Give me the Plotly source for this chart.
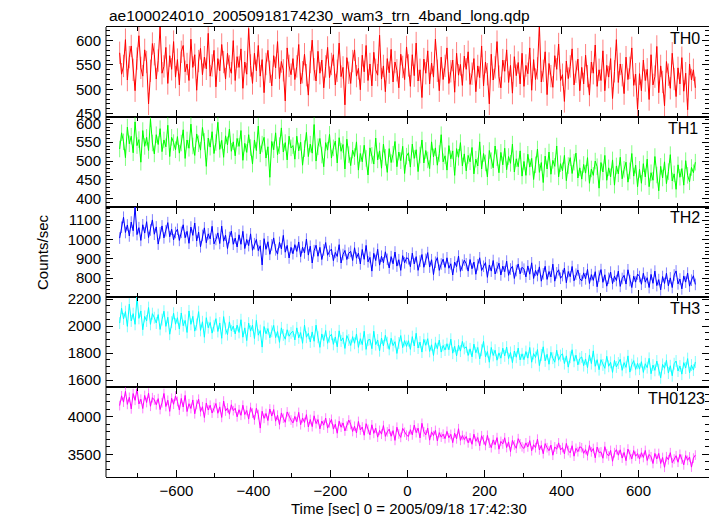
import numpy as np
import plotly.graph_objects as go
from plotly.subplots import make_subplots

TITLE = "ae100024010_20050918174230_wam3_trn_4band_long.qdp"
X_TITLE = "Time [sec] 0 = 2005/09/18 17:42:30"
Y_TITLE = "Counts/sec"

# time bins of the light curve (first bin centre and bin width, seconds)
TIME_START = -747.5
BIN_SIZE = 5.0

band_names = ["TH0", "TH1", "TH2", "TH3", "TH0123"]

th0 = [575, 531, 548, 602, 519, 566, 589, 540, 497, 563, 610, 544, 527, 581, 556, 470, 538, 594, 572, 521, 559, 628, 533, 547, 586, 512, 569, 541, 598, 525,
       561, 509, 577, 590, 536, 552, 518, 603, 545, 571, 498, 558, 584, 530, 566, 542, 615, 527, 549, 580, 505, 563, 538, 592, 556, 521, 574, 547, 533, 600,
       518, 567, 545, 583, 502, 556, 531, 625, 549, 512, 574, 538, 590, 527, 561, 493, 552, 580, 536, 507, 569, 544, 598, 522, 557, 539, 476, 585, 548, 530,
       563, 520, 547, 592, 511, 535, 572, 529, 488, 556, 601, 541, 517, 578, 533, 560, 503, 547, 586, 524, 552, 571, 509, 538, 595, 526, 545, 468, 565, 534,
       512, 558, 581, 527, 543, 499, 570, 536, 590, 518, 552, 507, 576, 540, 529, 611, 521, 548, 495, 563, 534, 582, 515, 556, 539, 503, 572, 546, 520, 587,
       549, 506, 571, 528, 595, 517, 540, 483, 562, 533, 579, 511, 554, 525, 603, 538, 497, 566, 520, 548, 585, 512, 537, 560, 494, 574, 529, 551, 508, 568,
       541, 577, 510, 532, 563, 495, 548, 524, 589, 507, 556, 531, 470, 572, 519, 545, 598, 526, 503, 560, 537, 581, 514, 549, 492, 567, 528, 555, 511, 574,
       506, 549, 532, 585, 498, 561, 520, 543, 632, 515, 538, 577, 489, 553, 527, 504, 569, 541, 593, 518, 530, 475, 558, 522, 547, 583, 509, 536, 562, 497,
       545, 511, 570, 527, 488, 556, 533, 591, 506, 540, 518, 579, 497, 549, 525, 563, 481, 537, 602, 514, 552, 529, 491, 566, 520, 544, 585, 508, 531, 459,
       532, 497, 560, 518, 541, 479, 571, 509, 526, 588, 493, 548, 515, 466, 557, 530, 502, 574, 521, 485, 544, 511, 565, 496, 533, 458, 552, 519, 540, 503]

th1 = [532, 575, 551, 509, 590, 546, 566, 522, 604, 541, 557, 497, 581, 539, 563, 528, 612, 548, 519, 570, 544, 586, 525, 556, 538, 595, 512, 563, 549, 530,
       565, 521, 548, 583, 507, 556, 534, 598, 540, 515, 572, 546, 529, 589, 552, 486, 561, 537, 578, 520, 549, 603, 531, 555, 510, 567, 543, 585, 526, 551,
       514, 560, 539, 581, 502, 547, 523, 570, 536, 492, 556, 528, 593, 519, 545, 563, 508, 538, 457, 552, 530, 575, 517, 541, 588, 524, 549, 503, 566, 535,
       541, 505, 566, 527, 550, 489, 533, 576, 512, 545, 521, 597, 500, 538, 560, 516, 485, 549, 529, 571, 508, 535, 553, 495, 562, 526, 544, 479, 558, 517,
       488, 529, 512, 551, 476, 520, 498, 542, 507, 463, 535, 515, 492, 561, 503, 527, 481, 545, 510, 470, 533, 496, 518, 552, 485, 524, 501, 539, 467, 513,
       522, 484, 545, 507, 530, 472, 516, 556, 495, 528, 503, 480, 551, 511, 535, 489, 520, 570, 498, 514, 476, 541, 506, 527, 462, 533, 510, 549, 487, 519,
       474, 515, 498, 536, 466, 505, 487, 551, 479, 520, 495, 458, 528, 501, 482, 540, 509, 469, 523, 490, 534, 477, 512, 494, 545, 471, 506, 485, 527, 460,
       499, 462, 518, 484, 507, 451, 490, 532, 470, 496, 443, 513, 479, 524, 465, 502, 486, 540, 458, 493, 474, 515, 448, 488, 509, 467, 497, 521, 455, 482,
       452, 491, 468, 509, 441, 479, 462, 500, 485, 428, 496, 471, 515, 449, 482, 458, 503, 436, 487, 466, 510, 453, 478, 497, 444, 474, 520, 460, 489, 432,
       478, 441, 493, 458, 505, 432, 469, 449, 512, 463, 421, 486, 455, 498, 440, 472, 517, 447, 466, 425, 490, 457, 480, 436, 501, 462, 445, 483, 469, 497]

th2 = [1007, 1063, 1115, 1036, 1075, 1018, 1090, 1045, 1168, 1025, 1061, 995, 1076, 1033, 1092, 1010, 1049, 1101, 1027, 1065, 976, 1034, 1070, 1008, 1045, 1087, 1014, 1053, 998, 1036,
       1053, 995, 1037, 1076, 1009, 1042, 980, 1064, 1021, 1085, 992, 1038, 962, 1021, 1060, 983, 1029, 1003, 1068, 977, 1000, 1034, 979, 1069, 991, 1022, 953, 1010, 1043, 975,
       1007, 961, 1024, 975, 1042, 953, 1000, 968, 1029, 944, 978, 1000, 942, 967, 868, 1004, 949, 988, 923, 972, 1008, 946, 924, 985, 951, 1021, 934, 969, 904, 959,
       926, 973, 938, 987, 911, 960, 930, 1002, 919, 965, 878, 942, 970, 913, 959, 896, 946, 984, 918, 939, 950, 890, 933, 912, 973, 878, 922, 943, 896, 929,
       938, 891, 957, 903, 929, 873, 948, 897, 969, 884, 907, 836, 928, 891, 949, 867, 913, 879, 936, 897, 852, 911, 874, 935, 862, 895, 840, 916, 879, 905,
       900, 859, 929, 873, 911, 840, 888, 922, 856, 897, 932, 857, 895, 818, 882, 906, 840, 873, 898, 855, 905, 851, 874, 816, 883, 859, 914, 835, 867, 893,
       874, 836, 896, 848, 883, 820, 869, 905, 839, 861, 880, 804, 868, 836, 891, 821, 854, 877, 816, 862, 833, 888, 814, 847, 861, 798, 839, 873, 822, 856,
       846, 806, 863, 820, 879, 798, 840, 813, 858, 784, 822, 861, 793, 834, 806, 872, 784, 827, 843, 799, 813, 852, 776, 834, 807, 860, 786, 820, 842, 797,
       785, 827, 796, 845, 772, 818, 788, 833, 755, 810, 844, 778, 817, 758, 799, 831, 771, 810, 787, 836, 757, 798, 814, 769, 843, 787, 751, 810, 779, 821,
       808, 768, 825, 779, 802, 751, 819, 773, 836, 761, 792, 739, 808, 772, 825, 760, 801, 751, 816, 837, 770, 795, 744, 811, 779, 826, 758, 789, 812, 767]

th3 = [2022, 2132, 2053, 2107, 1998, 2162, 2038, 2092, 2013, 2215, 2057, 2112, 1973, 2072, 2038, 2137, 2013, 2092, 2062, 2023, 2085, 1975, 2048, 2110, 1998, 2065, 1940, 2029, 2095, 2014,
       2062, 1978, 2097, 2003, 2042, 1953, 2112, 2013, 2072, 1963, 2012, 2107, 1968, 2032, 1918, 2062, 1988, 2027, 1948, 2002, 2055, 1960, 2023, 1910, 2070, 1982, 1937, 2031, 1965, 2000,
       1942, 2007, 1953, 2047, 1918, 1987, 1893, 2022, 1963, 2007, 1908, 2042, 1933, 1967, 1845, 1997, 1943, 1982, 1913, 1962, 2005, 1915, 1960, 1880, 1987, 1935, 1903, 1973, 1925, 1950,
       1962, 1898, 1987, 1913, 1952, 1873, 2007, 1918, 1947, 1883, 1957, 1888, 2007, 1918, 1843, 1942, 1893, 1967, 1873, 1922, 1940, 1865, 1920, 1847, 1965, 1890, 1913, 1835, 1930, 1897,
       1857, 1922, 1873, 1942, 1843, 1907, 1863, 1962, 1828, 1897, 1902, 1833, 1962, 1863, 1897, 1818, 1912, 1853, 1932, 1877, 1828, 1910, 1856, 1885, 1798, 1875, 1930, 1841, 1893, 1850,
       1892, 1828, 1922, 1853, 1947, 1838, 1882, 1808, 1902, 1858, 1907, 1813, 1862, 1783, 1877, 1833, 1897, 1808, 1857, 1823, 1870, 1825, 1903, 1800, 1851, 1780, 1859, 1815, 1887, 1835,
       1847, 1783, 1832, 1773, 1867, 1803, 1842, 1758, 1822, 1887, 1773, 1812, 1733, 1842, 1783, 1822, 1748, 1802, 1763, 1837, 1780, 1845, 1760, 1805, 1730, 1816, 1770, 1838, 1750, 1795,
       1752, 1812, 1763, 1842, 1733, 1797, 1768, 1827, 1708, 1787, 1847, 1743, 1792, 1718, 1807, 1763, 1733, 1822, 1748, 1782, 1795, 1723, 1780, 1697, 1770, 1825, 1740, 1785, 1713, 1760,
       1772, 1708, 1757, 1693, 1787, 1723, 1817, 1703, 1752, 1678, 1752, 1713, 1688, 1777, 1703, 1732, 1658, 1747, 1698, 1727, 1755, 1673, 1730, 1695, 1780, 1660, 1715, 1745, 1680, 1725,
       1682, 1737, 1658, 1722, 1693, 1762, 1648, 1712, 1673, 1742, 1678, 1618, 1717, 1688, 1747, 1653, 1707, 1633, 1722, 1742, 1668, 1705, 1645, 1730, 1690, 1760, 1655, 1712, 1675, 1735]

th0123 = [4147, 4277, 4193, 4337, 4163, 4257, 4103, 4307, 4217, 4367, 4168, 4232, 4108, 4282, 4188, 4312, 4138, 4252, 4222, 4158, 4240, 4095, 4185, 4308, 4135, 4218, 4070, 4245, 4165, 4275,
          4202, 4088, 4242, 4128, 4282, 4068, 4172, 4108, 4222, 4038, 4162, 4232, 4068, 4132, 3988, 4182, 4088, 4152, 4048, 4122, 4175, 4045, 4130, 3990, 4208, 4075, 4115, 4032, 4158, 4080,
          4112, 3998, 4092, 4018, 4152, 4028, 4082, 3968, 4122, 4048, 3958, 4112, 4028, 3848, 4072, 3978, 4042, 3948, 4102, 4008, 4095, 3940, 4020, 3895, 4050, 3980, 3925, 4063, 4000, 3955,
          3917, 4003, 3933, 4057, 3893, 3983, 3923, 4027, 3863, 3963, 3868, 4012, 3908, 3962, 3838, 3942, 3888, 3982, 3848, 3918, 3965, 3835, 3900, 3780, 3940, 3860, 3917, 3810, 3875, 3955,
          3897, 3803, 3873, 3783, 3937, 3823, 3863, 3753, 3907, 3833, 3758, 3892, 3778, 3848, 3728, 3818, 3768, 3882, 3738, 3798, 3835, 3740, 3815, 3685, 3860, 3770, 3725, 3845, 3792, 3755,
          3738, 3828, 3758, 3888, 3788, 3848, 3718, 3912, 3798, 3758, 3848, 3688, 3798, 3748, 3818, 3678, 3788, 3728, 3768, 3708, 3805, 3720, 3765, 3655, 3780, 3705, 3840, 3685, 3750, 3695,
          3737, 3653, 3717, 3633, 3767, 3673, 3723, 3613, 3747, 3693, 3618, 3752, 3648, 3588, 3692, 3628, 3722, 3568, 3672, 3638, 3720, 3590, 3665, 3535, 3685, 3625, 3580, 3708, 3640, 3600,
          3578, 3652, 3598, 3682, 3548, 3628, 3588, 3702, 3558, 3618, 3508, 3642, 3588, 3548, 3622, 3488, 3598, 3568, 3652, 3558, 3590, 3505, 3645, 3550, 3520, 3615, 3475, 3580, 3535, 3600,
          3587, 3513, 3563, 3483, 3617, 3533, 3577, 3453, 3597, 3523, 3532, 3448, 3602, 3508, 3478, 3552, 3408, 3522, 3562, 3488, 3560, 3450, 3525, 3415, 3570, 3495, 3440, 3550, 3475, 3510,
          3438, 3522, 3458, 3552, 3418, 3498, 3468, 3378, 3512, 3438, 3512, 3378, 3458, 3328, 3468, 3428, 3522, 3388, 3438, 3482, 3395, 3500, 3435, 3360, 3485, 3420, 3465, 3330, 3450, 3490]

# typical 1-sigma statistical errors per band (counts/sec)
band_errors = [23, 22, 30, 44, 64]

series = [th0, th1, th2, th3, th0123]

# ---- styling -------------------------------------------------------------
colors = ["#ff0000", "#00ff00", "#0000ff", "#00ffff", "#ff00ff"]
err_colors = ["rgba(255,0,0,0.5)", "rgba(0,255,0,0.5)", "rgba(0,0,255,0.5)",
              "rgba(0,255,255,0.5)", "rgba(255,0,255,0.5)"]
y_ranges = [[443, 628], [378, 617], [702, 1168], [1550, 2215], [3199, 4394]]
y_dticks = [50, 50, 100, 200, 500]
y_minor = [10, 10, 20, 50, 100]
label_x = [702, 700, 702, 702, 707]

W, H = 717, 516
L, R, T, B = 106, 8, 27, 39
FONT = "Liberation Sans, Arial, Helvetica, sans-serif"

fig = make_subplots(rows=5, cols=1, shared_xaxes=True, vertical_spacing=0)

for i, (vals, c, ec, err) in enumerate(zip(series, colors, err_colors, band_errors)):
    t = TIME_START + BIN_SIZE * np.arange(len(vals))
    fig.add_trace(go.Scatter(
        x=t, y=vals, mode="lines",
        line=dict(color=c, width=1),
        error_y=dict(type="constant", value=err, color=ec, thickness=1, width=0),
        showlegend=False, hoverinfo="skip"),
        row=i + 1, col=1)
    fig.update_yaxes(
        range=y_ranges[i], dtick=y_dticks[i], tick0=0,
        ticks="inside", ticklen=7, tickwidth=1, tickcolor="black",
        minor=dict(dtick=y_minor[i], ticks="inside", ticklen=4, tickcolor="black"),
        mirror="ticks", showline=False, showgrid=False, zeroline=False,
        tickfont=dict(size=15, color="black", family=FONT),
        ticklabelstandoff=4,
        row=i + 1, col=1)
    fig.update_xaxes(
        range=[-783, 783], dtick=200, tick0=0,
        ticks="inside", ticklen=7, tickwidth=1, tickcolor="black",
        minor=dict(dtick=100, ticks="inside", ticklen=4, tickcolor="black"),
        mirror="ticks", showline=True, linecolor="black", linewidth=1,
        showgrid=False, zeroline=False,
        tickfont=dict(size=15, color="black", family=FONT),
        row=i + 1, col=1)
    top_px = T + i * 90
    fig.add_annotation(
        x=(label_x[i] - L) / (W - L - R), xref="paper", xanchor="right",
        y=1 - (top_px + 11 - T) / (H - T - B), yref="paper", yanchor="middle",
        text=band_names[i], showarrow=False,
        font=dict(size=16, color="black", family=FONT))

fig.add_shape(type="line", xref="paper", yref="paper", x0=0, x1=0, y0=0, y1=1,
              line=dict(color="black", width=1))

fig.add_annotation(x=(107 - L) / (W - L - R), xref="paper", xanchor="left",
                   y=1 + (T - 15) / (H - T - B), yref="paper", yanchor="middle",
                   text=TITLE, showarrow=False,
                   font=dict(size=15.5, color="black", family=FONT))
fig.add_annotation(x=(409 - L) / (W - L - R), xref="paper", xanchor="center",
                   y=-(508 - (H - B)) / (H - T - B), yref="paper", yanchor="middle",
                   text=X_TITLE, showarrow=False,
                   font=dict(size=15, color="black", family=FONT))
fig.add_annotation(x=-(L - 42) / (W - L - R), xref="paper", xanchor="center",
                   y=0.5, yref="paper", yanchor="middle", textangle=-90,
                   text=Y_TITLE, showarrow=False,
                   font=dict(size=15, color="black", family=FONT))

fig.update_layout(
    width=W, height=H,
    margin=dict(l=L, r=R, t=T, b=B, pad=0),
    paper_bgcolor="white", plot_bgcolor="white",
    font=dict(family=FONT, color="black"),
)

fig.write_html("out.html", config={"displayModeBar": False},
               post_script="document.body.style.margin='0px';")
